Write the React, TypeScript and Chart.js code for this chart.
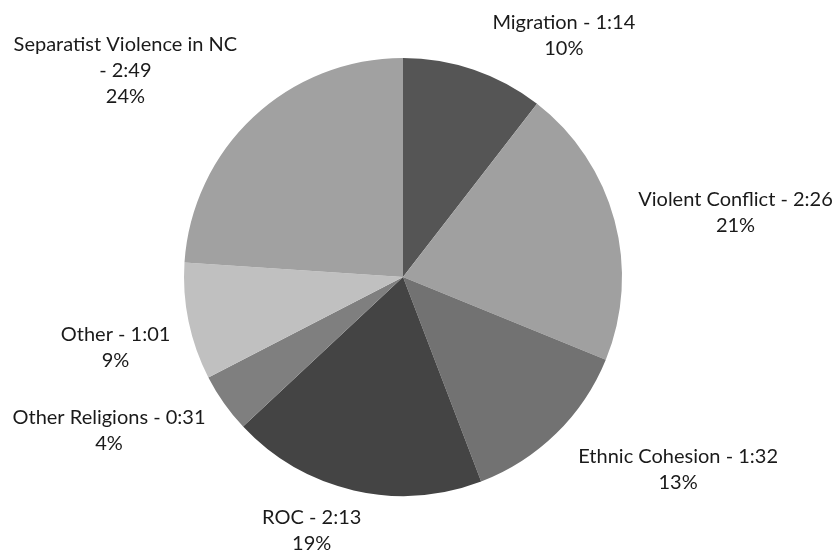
import React, { useEffect, useRef } from "react";
import { Chart, registerables } from "chart.js";

Chart.register(...registerables);

const categories = [
  "Migration",
  "Violent Conflict",
  "Ethnic Cohesion",
  "ROC",
  "Other Religions",
  "Other",
  "Separatist Violence in NC",
];
const durationsSec = [74, 146, 92, 133, 31, 61, 169];
const sliceColors = ["#555555", "#a0a0a0", "#727272", "#444444", "#7f7f7f", "#c0c0c0", "#a1a1a1"];
// label block offset from the arc's outer mid-point (layout only)
const labelOffsets: [number, number][] = [
  [90, -34],
  [121, -8],
  [122, 36],
  [-42, 40],
  [-115, 27],
  [-73, 26],
  [-128, -47],
];

const FONT = '20px Lato, "Open Sans", sans-serif';
const LINE_H = 26;
const MAX_W = 205;

function fmt(sec: number) {
  const m = Math.floor(sec / 60);
  const s = sec % 60;
  return `${m}:${s < 10 ? "0" : ""}${s}`;
}

const labelPlugin = {
  id: "outsideLabels",
  afterDraw(chart: any) {
    const ctx = chart.ctx;
    const meta = chart.getDatasetMeta(0);
    const data = chart.data.datasets[0].data as number[];
    const total = data.reduce((a, b) => a + b, 0);
    ctx.save();
    ctx.font = FONT;
    ctx.fillStyle = "#1a1a1a";
    ctx.textAlign = "center";
    ctx.textBaseline = "middle";
    meta.data.forEach((arc: any, i: number) => {
      const p = arc.getProps(["x", "y", "startAngle", "endAngle", "outerRadius"], true);
      const mid = (p.startAngle + p.endAngle) / 2;
      const ax = p.x + Math.cos(mid) * p.outerRadius;
      const ay = p.y + Math.sin(mid) * p.outerRadius;
      const cx = ax + labelOffsets[i][0];
      const cy = ay + labelOffsets[i][1];
      const main = `${categories[i]} - ${fmt(data[i])}`;
      const pct = `${Math.round((data[i] / total) * 100)}%`;
      let lines: string[];
      if (ctx.measureText(main).width > MAX_W) {
        lines = [categories[i], `- ${fmt(data[i])}`, pct];
      } else {
        lines = [main, pct];
      }
      const top = cy - ((lines.length - 1) * LINE_H) / 2;
      lines.forEach((l, k) => ctx.fillText(l, cx, top + k * LINE_H));
    });
    ctx.restore();
  },
};

export default function App() {
  const ref = useRef<HTMLCanvasElement | null>(null);
  useEffect(() => {
    document.body.style.margin = "0";
    const chart = new Chart(ref.current!, {
      type: "pie",
      data: {
        labels: categories,
        datasets: [
          {
            data: durationsSec,
            backgroundColor: sliceColors,
            borderWidth: 0,
          },
        ],
      },
      options: {
        responsive: false,
        animation: false,
        layout: { padding: { top: 58, bottom: 54, left: 100, right: 129 } },
        plugins: {
          legend: { display: false },
          tooltip: { enabled: false },
        },
      },
      plugins: [labelPlugin],
    });
    return () => chart.destroy();
  }, []);
  return (
    <div style={{ position: "fixed", left: 0, top: 0, width: 835, height: 550, background: "#fff" }}>
      <canvas ref={ref} width={835} height={550} />
    </div>
  );
}
